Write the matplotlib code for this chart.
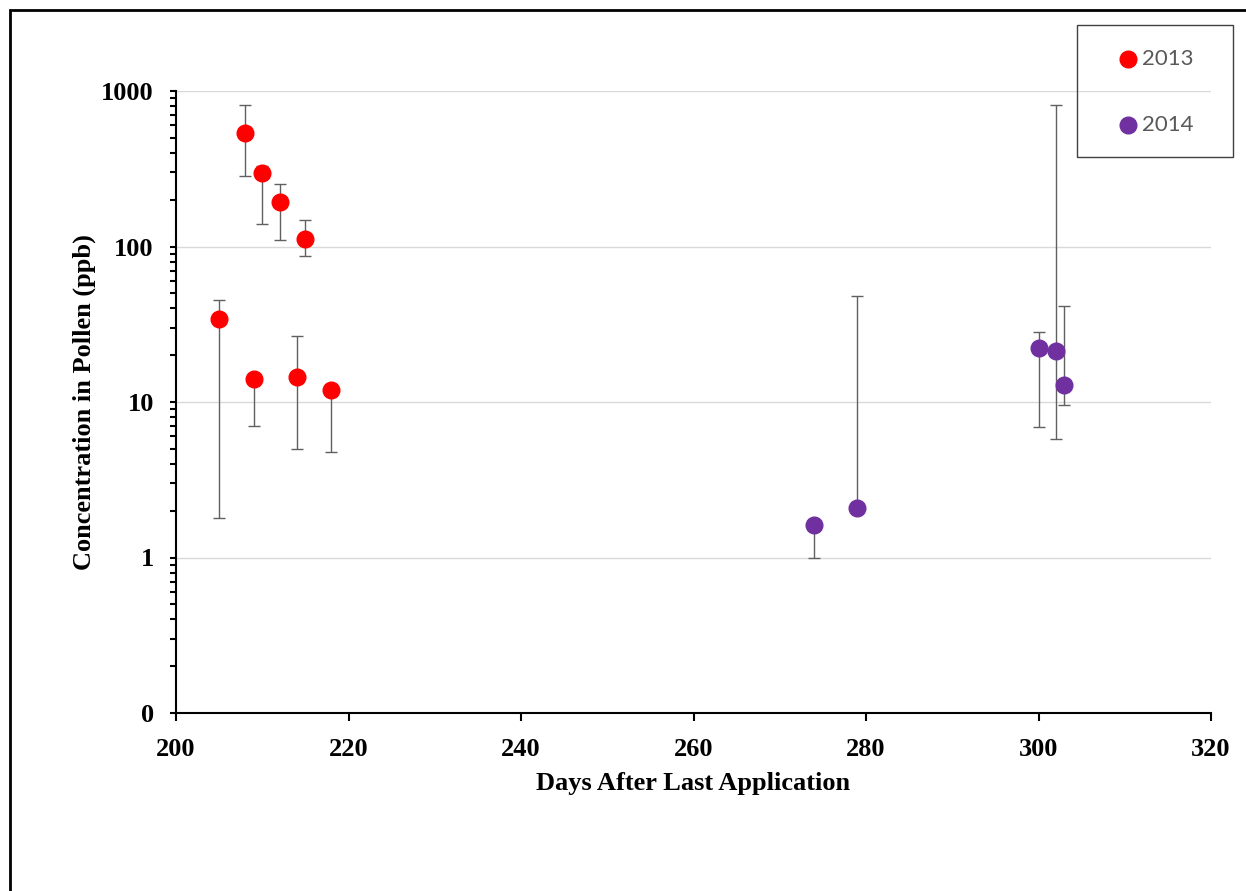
import matplotlib
matplotlib.use("Agg")
import matplotlib.pyplot as plt
import matplotlib.ticker as mticker
from matplotlib.lines import Line2D
from matplotlib.patches import Rectangle
import numpy as np

# ---- data ----
x2013 = [205, 208, 210, 212, 215, 209, 214, 218]
y2013 = [34, 540, 295, 193, 112, 14, 14.5, 11.9]
lo2013 = [1.8, 286, 139, 110, 87.5, 7, 4.95, 4.8]
hi2013 = [45, 807, 331, 252, 148, 14, 26.7, 11.9]

x2014 = [274, 279, 300, 302, 303]
y2014 = [1.61, 2.09, 22.1, 21.2, 12.8]
lo2014 = [1.0, 2.09, 6.9, 5.8, 9.6]
hi2014 = [1.61, 48.4, 28.4, 807, 41.7]

series_labels = ["2013", "2014"]
series_colors = ["#FF0000", "#7030A0"]

xticks = [200, 220, 240, 260, 280, 300, 320]
yticks = [0.1, 1, 10, 100, 1000]
ytick_labels = ["0", "1", "10", "100", "1000"]

serif = ["Liberation Serif", "DejaVu Serif"]
W, H = 1246, 891

fig = plt.figure(figsize=(W / 100, H / 100), dpi=100)
ax = fig.add_axes([176 / W, 1 - 713 / H, (1211 - 176) / W, (713 - 91) / H])

# figure border (top and left visible)
fig.add_artist(Rectangle((10 / W, -0.1), 1.2, 1 - 10 / H + 0.1,
                         transform=fig.transFigure, fill=False,
                         edgecolor="black", linewidth=2, zorder=0))

def draw(xs, ys, lo, hi, color, label):
    ys = np.array(ys)
    yerr = [ys - np.array(lo), np.array(hi) - ys]
    ax.errorbar(xs, ys, yerr=yerr, fmt="none", ecolor="#606060",
                elinewidth=1, capsize=4.5, capthick=1, zorder=2)
    ax.plot(xs, ys, "o", color=color, markersize=12, zorder=3, label=label)

draw(x2013, y2013, lo2013, hi2013, series_colors[0], series_labels[0])
draw(x2014, y2014, lo2014, hi2014, series_colors[1], series_labels[1])

ax.set_yscale("log")
ax.set_ylim(0.1, 1000)
ax.set_xlim(200, 320)
ax.set_xticks(xticks)
ax.set_yticks(yticks)
ax.set_yticklabels(ytick_labels)
ax.yaxis.set_minor_locator(mticker.LogLocator(base=10, subs=np.arange(2, 10)))
ax.yaxis.set_minor_formatter(mticker.NullFormatter())

for g in [1, 10, 100, 1000]:
    ax.axhline(g, color="#d9d9d9", linewidth=1, zorder=1)

for s in ["top", "right"]:
    ax.spines[s].set_visible(False)
for s in ["left", "bottom"]:
    ax.spines[s].set_linewidth(1.5)
    ax.spines[s].set_color("black")

ax.tick_params(axis="x", which="major", direction="out", length=6, width=1.5,
               pad=12)
ax.tick_params(axis="y", which="both", direction="out", length=4, width=1.5,
               pad=12)
for lab in ax.get_xticklabels() + ax.get_yticklabels():
    lab.set_fontfamily(serif)
    lab.set_fontweight("bold")
    lab.set_fontsize(19)

ax.set_xlabel("Days After Last Application", fontfamily=serif,
              fontweight="bold", fontsize=19, labelpad=8)
ax.set_ylabel("Concentration in Pollen (ppb)", fontfamily=serif,
              fontweight="bold", fontsize=19, labelpad=4)

# legend box drawn in figure pixels
fig.add_artist(Rectangle((1077 / W, 1 - 157 / H), (1233 - 1077) / W,
                         (157 - 25) / H, transform=fig.transFigure,
                         fill=False, edgecolor="#404040", linewidth=1))
for i, (lab, col) in enumerate(zip(series_labels, series_colors)):
    yy = 1 - (59 + 66 * i) / H
    fig.add_artist(Line2D([1128 / W], [yy], marker="o", linestyle="none",
                          color=col, markersize=12,
                          transform=fig.transFigure))
    fig.text(1142 / W, yy, lab, fontfamily="Lato", fontsize=16,
             color="#595959", va="center", ha="left")

fig.savefig("out.png", dpi=100)
